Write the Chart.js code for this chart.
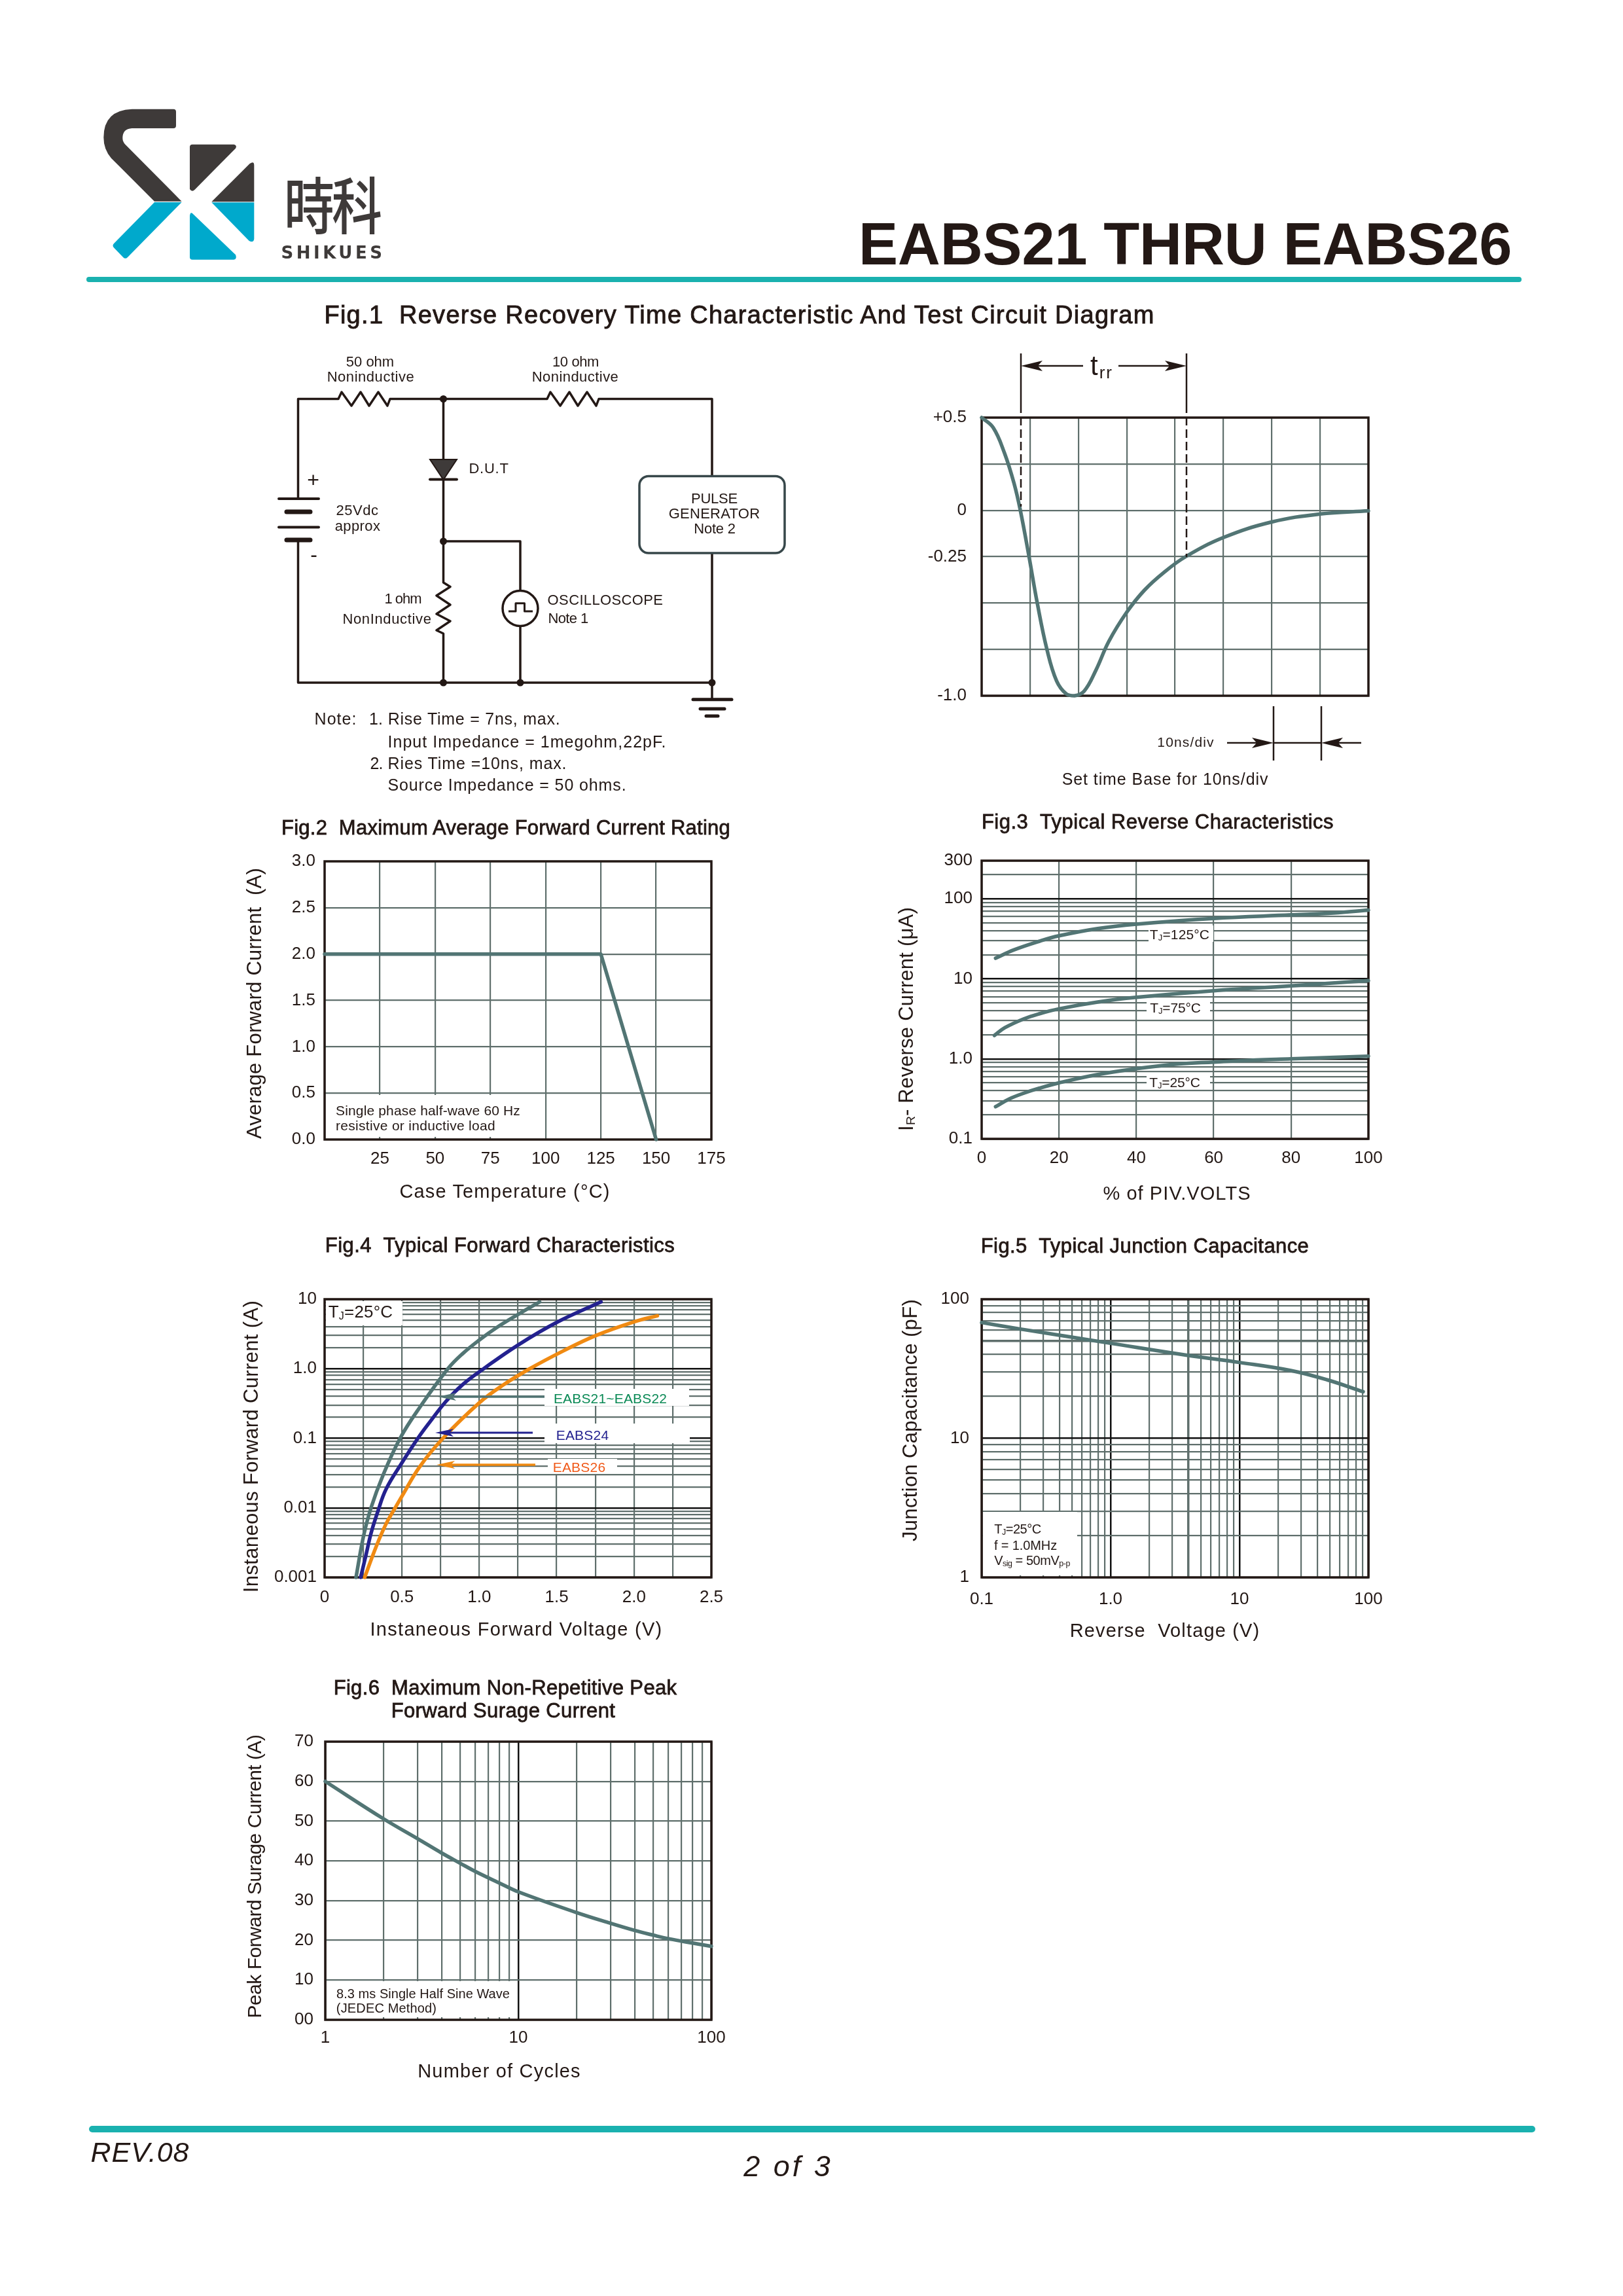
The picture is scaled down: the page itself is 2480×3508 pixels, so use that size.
<!DOCTYPE html>
<html>
<head>
<meta charset="utf-8">
<title>EABS21 THRU EABS26</title>
<script src="https://cdn.jsdelivr.net/npm/chart.js@4"></script>
<style>
  html, body { margin: 0; background: #fff; }
  #page { position: relative; width: 2480px; height: 3508px; overflow: hidden; background: #fff; font-family: "Liberation Sans", Arial, sans-serif; color: #231815; }
  #page canvas { position: absolute; }
  #overlay { position: absolute; left: 0; top: 0; }
  .box { position: absolute; background: #fff; }
  .lbl { position: absolute; white-space: pre; line-height: 1; }
  .sub { font-size: 62%; vertical-align: -0.18em; }
</style>
</head>
<body>
<div id="page">
<svg id="overlay" width="2480" height="3508" viewBox="0 0 2480 3508" style="z-index:3">
  <!-- logo, traced from the header -->
  <g transform="translate(130,140) scale(0.3333)">
    <path fill="#3e3a39" d="M215 80 H405 Q417 80 417 92 V156 Q417 168 405 168 H215 Q172 170 172 213 Q172 230 185 243 L443 503 H318 L120 305 Q85 265 85 210 Q85 85 215 80 Z"/>
    <path fill="#00a9cc" d="M318 507 H443 L196 758 Q185 770 175 760 L133 716 Q122 706 133 695 Z"/>
    <path fill="#3e3a39" d="M480 254 Q480 242 492 242 H682 Q698 246 690 260 L503 449 Q490 462 480 447 Z"/>
    <path fill="#3e3a39" d="M580 505 L755 330 Q775 316 775 338 V505 Z"/>
    <path fill="#00a9cc" d="M580 508 H775 V675 Q772 695 752 684 Z"/>
    <path fill="#00a9cc" d="M492 558 Q482 550 480 570 V758 Q480 770 492 770 H682 Q698 768 690 748 Z"/>
  </g>
  <rect x="132" y="423" width="2193" height="8" rx="4" fill="#1ab1af"/>
  <rect x="136" y="3248" width="2210" height="10" rx="5" fill="#1ab1af"/>

  <!-- test circuit -->
  <g transform="translate(2,0)">
    <g fill="none" stroke="#231815" stroke-width="3.5" stroke-linejoin="round">
      <path d="M453.5 762 V609.5 H515 L520 599 L535 620 L549 599 L562 620 L576 599 L590 620 L594 609.5 H834 L839 599 L854 620 L868 599 L881 620 L895 599 L909 620 L913 609.5 H1086 V727"/>
      <path d="M1086 845 V1068"/>
      <path d="M453.5 825 V1043 H1086"/>
      <path d="M675.5 609.5 V702 M675.5 732 V890 L686 896.5 L665 910 L686 924 L665 938 L686 949 L665 963 L675.5 968 V1043"/>
      <path d="M675.5 827 H793 V902.5 M793 956.5 V1043"/>
      <circle cx="793" cy="929.5" r="27"/>
      <path stroke-width="3" d="M775 934 H786 V921.7 H799.5 V934 H812"/>
      <rect x="975" y="727.5" width="222" height="117.5" rx="14" stroke="#37474a" stroke-width="3.5"/>
    </g>
    <path d="M655 702 H696 L675.5 733 Z" fill="#3e3a39" stroke="#231815" stroke-width="2"/>
    <g stroke="#231815" stroke-linecap="round" fill="none">
      <path stroke-width="4" d="M655 732.5 H696"/>
      <path stroke-width="4" d="M424 762 H485 M424 805.5 H485"/>
      <path stroke-width="7" d="M436 782 H472 M436 825 H472"/>
      <path stroke-width="5" d="M1057 1068.7 H1116"/>
      <path stroke-width="5" d="M1068 1083 H1105"/>
      <path stroke-width="5" d="M1077 1094 H1095"/>
    </g>
    <g fill="#231815">
      <circle cx="675.5" cy="609.5" r="5.5"/><circle cx="675.5" cy="827" r="5.5"/>
      <circle cx="675.5" cy="1043" r="5.5"/><circle cx="793" cy="1043" r="5.5"/><circle cx="1086" cy="1043" r="5.5"/>
    </g>
  </g>

  <!-- scope picture: trr and time base marks -->
  <g fill="none" stroke="#231815" stroke-width="2.5">
    <path d="M1560 540 V618 M1813 540 V618"/>
    <path stroke-dasharray="13 6" d="M1560 618 V774 M1813 618 V851"/>
    <path d="M1946 1079 V1162 M2019 1079 V1162 M1946 1135 H2019"/>
  </g>
  <g id="arrows"></g>
</svg>
</div>

<script>
// Fig.1 scope trace
const fig1Time = [0, 2.4, 4.7, 6.7, 8, 9.8, 11.5, 13.5, 15.5, 17.5, 19.2, 21.2, 23.6, 26.3, 30, 33.7, 37.7, 42.2, 50, 60, 70, 80];
const fig1Level = [0.5, 0.445, 0.31, 0.145, 0, -0.25, -0.5, -0.75, -0.92, -0.99, -1, -0.975, -0.864, -0.707, -0.55, -0.43, -0.335, -0.25, -0.147, -0.063, -0.02, -0.003];
const fig1XGrid = [0, 10, 20, 30, 40, 50, 60, 70, 80];
const fig1YGrid = [-1, -0.75, -0.5, -0.25, 0, 0.25, 0.5];
const fig1YTicks = [0.5, 0, -0.25, -1];
const fig1YLabels = ['+0.5', '0', '-0.25', '-1.0'];

// Fig.2 derating
const fig2Temp = [0, 125, 150];
const fig2Current = [2, 2, 0];
const fig2XGrid = [0, 25, 50, 75, 100, 125, 150, 175];
const fig2XLabels = ['', '25', '50', '75', '100', '125', '150', '175'];
const fig2YGrid = [0, 0.5, 1, 1.5, 2, 2.5, 3];
const fig2YLabels = ['0.0', '0.5', '1.0', '1.5', '2.0', '2.5', '3.0'];

// Fig.3 reverse current
const fig3X125 = [3.6, 8.3, 15.2, 20, 30, 40, 60, 80, 91, 100];
const fig3Y125 = [18.1, 23, 29.8, 34.5, 42.5, 48.3, 57, 63, 66.6, 72.4];
const fig3X75 = [3.3, 6, 10.9, 15, 20, 30, 40, 60, 80, 100];
const fig3Y75 = [1.96, 2.45, 3.16, 3.67, 4.22, 5.13, 5.87, 7.11, 8.16, 9.5];
const fig3X25 = [3.6, 7, 10.9, 15, 20, 30, 40, 51, 60, 71, 80, 100];
const fig3Y25 = [0.252, 0.313, 0.372, 0.431, 0.501, 0.636, 0.753, 0.865, 0.912, 0.97, 1, 1.08];
const fig3XGrid = [0, 20, 40, 60, 80, 100];
const fig3YTicks = [0.1, 1, 10, 100, 300];
const fig3YLabels = ['0.1', '1.0', '10', '100', '300'];

// Fig.4 forward characteristics
const fig4XGreen = [0.203, 0.25, 0.3, 0.376, 0.488, 0.613, 0.797, 0.894, 1.002, 1.11, 1.25, 1.39];
const fig4YGreen = [0.001, 0.00377, 0.01, 0.0288, 0.1, 0.274, 1, 1.66, 2.61, 3.88, 6.03, 9.16];
const fig4XBlue = [0.233, 0.268, 0.3, 0.343, 0.397, 0.501, 0.603, 0.678, 0.786, 0.894, 1.028, 1.25, 1.5, 1.787];
const fig4YBlue = [0.001, 0.00212, 0.0043, 0.0087, 0.0185, 0.0448, 0.1, 0.1687, 0.342, 0.596, 1, 2.19, 4.63, 9.16];
const fig4XOrange = [0.259, 0.333, 0.397, 0.451, 0.501, 0.613, 0.765, 1.002, 1.153, 1.326, 1.542, 1.75, 2, 2.151];
const fig4YOrange = [0.001, 0.00276, 0.00586, 0.00953, 0.0148, 0.0385, 0.1, 0.327, 0.581, 1, 1.8, 2.98, 4.72, 5.78];
const fig4XGrid = [0, 0.25, 0.5, 0.75, 1, 1.25, 1.5, 1.75, 2, 2.25, 2.5];
const fig4XTicks = [0, 0.5, 1, 1.5, 2, 2.5];
const fig4XLabels = ['0', '0.5', '1.0', '1.5', '2.0', '2.5'];
const fig4YTicks = [0.001, 0.01, 0.1, 1, 10];
const fig4YLabels = ['0.001', '0.01', '0.1', '1.0', '10'];

// Fig.5 junction capacitance
const fig5Volt = [0.1, 0.2, 1, 3.94, 10, 25, 48, 91];
const fig5Cap = [68, 61, 48.2, 39.5, 35.1, 30.7, 26.3, 21.6];
const fig5XTicks = [0.1, 1, 10, 100];
const fig5XLabels = ['0.1', '1.0', '10', '100'];
const fig5YTicks = [1, 10, 100];
const fig5YLabels = ['1', '10', '100'];

// Fig.6 surge current
const fig6Cycles = [1, 2, 3, 4, 5, 6, 8, 10, 20, 30, 40, 50, 60, 80, 100];
const fig6Surge = [60, 50.6, 45.6, 42, 39.4, 37.3, 34.4, 32.2, 27, 24.3, 22.5, 21.3, 20.4, 19.3, 18.5];
const fig6YGrid = [0, 10, 20, 30, 40, 50, 60, 70];
const fig6YLabels = ['00', '10', '20', '30', '40', '50', '60', '70'];
const fig6XTicks = [1, 10, 100];
const fig6XLabels = ['1', '10', '100'];

const TRACE = '#527574';
const BLUE = '#23218f';
const ORANGE = '#f08a12';
const GRID = '#5f6f6c';
const INK = '#231815';

const page = document.getElementById('page');

// 1..9 x 10^n grid values of a log axis, plus the top of the axis
function logGrid(min, max) {
  const vals = [];
  for (let e = Math.floor(Math.log10(min)); e <= Math.ceil(Math.log10(max)); e++) {
    for (let k = 1; k <= 9; k++) {
      const v = Math.round(k * Math.pow(10, e) * 1e6) / 1e6;
      if (v >= min && v <= max) vals.push(v);
    }
  }
  if (!vals.includes(max)) vals.push(max);
  return vals;
}

function isDecade(v) {
  const l = Math.log10(v);
  return Math.abs(l - Math.round(l)) < 1e-9;
}

// a: {type, min, max, grid, ticks, labels, pad, heavy}
function axis(a, fitSide) {
  const log = a.type === 'logarithmic';
  const tickVals = a.ticks || a.grid;
  const opts = {
    type: a.type || 'linear',
    min: a.min,
    max: a.max,
    afterBuildTicks: s => { s.ticks = a.grid.map(v => ({ value: v })); },
    grid: {
      drawTicks: false,
      color: c => (log && isDecade(c.tick.value)) ? '#111' : GRID,
      lineWidth: c => (log && isDecade(c.tick.value)) ? 2.5 : ((a.heavy || []).includes(c.tick.value) ? 3.5 : 2.2)
    },
    border: { display: false },
    ticks: {
      autoSkip: false,
      maxRotation: 0,
      padding: a.pad,
      color: INK,
      font: { family: '"Liberation Sans"', size: 26 },
      callback: v => {
        if (!a.labels) return '';
        const i = tickVals.findIndex(t => Math.abs(t - v) < 1e-9);
        return i < 0 ? '' : a.labels[i];
      }
    }
  };
  opts.afterFit = s => { if (fitSide === 'x') s.height = 70; else s.width = 110; };
  return opts;
}

const framePlugin = {
  id: 'frame',
  beforeDatasetsDraw(chart) {
    const { ctx, chartArea: c } = chart;
    ctx.save();
    ctx.strokeStyle = INK;
    ctx.lineWidth = 3.5;
    ctx.strokeRect(c.left, c.top, c.right - c.left, c.bottom - c.top);
    ctx.restore();
  }
};

function series(xs, ys, color, straight) {
  return {
    data: xs.map((x, i) => ({ x: x, y: ys[i] })),
    borderColor: color,
    borderWidth: 5.5,
    pointRadius: 0,
    clip: false,
    borderCapStyle: 'round',
    borderJoinStyle: 'round',
    tension: straight ? 0 : 0.4
  };
}

// the frame of the plot is placed by pixels, the canvas is set around it
function plot(frame, datasets, xAxis, yAxis) {
  const canvas = document.createElement('canvas');
  const w = frame.right - frame.left + 170;
  const h = frame.bottom - frame.top + 130;
  canvas.width = w;
  canvas.height = h;
  canvas.style.left = (frame.left - 110) + 'px';
  canvas.style.top = (frame.top - 60) + 'px';
  canvas.style.width = w + 'px';
  canvas.style.height = h + 'px';
  canvas.style.zIndex = 1;
  page.appendChild(canvas);
  return new Chart(canvas.getContext('2d'), {
    type: 'line',
    data: { datasets: datasets },
    plugins: [framePlugin],
    options: {
      responsive: false,
      animation: false,
      devicePixelRatio: 1,
      layout: { padding: { top: 60, right: 60, left: 0, bottom: 0 } },
      plugins: { legend: { display: false }, tooltip: { enabled: false } },
      scales: { x: axis(xAxis, 'x'), y: axis(yAxis, 'y') }
    }
  });
}

// text fitted to the width it has on the page
function label(html, x1, x2, y, size, o) {
  o = o || {};
  const sx = o.sx || 1;
  const el = document.createElement('div');
  el.className = 'lbl';
  el.innerHTML = html;
  el.style.fontSize = size + 'px';
  el.style.zIndex = 4;
  if (o.font) el.style.fontFamily = o.font;
  if (o.weight) el.style.fontWeight = o.weight;
  if (o.italic) el.style.fontStyle = 'italic';
  if (o.color) el.style.color = o.color;
  if (o.stroke) el.style.webkitTextStroke = o.stroke + 'px ' + (o.color || INK);
  el.style.left = o.rot ? y + 'px' : (x1 + x2) / 2 + 'px';
  el.style.top = o.rot ? (x1 + x2) / 2 + 'px' : y + 'px';
  el.style.transform = 'translate(-50%,-50%)' + (o.rot ? ' rotate(-90deg)' : '') + (sx !== 1 ? ` scaleX(${sx})` : '');
  page.appendChild(el);
  const n = el.textContent.length;
  el.style.letterSpacing = (((x2 - x1) / sx - el.offsetWidth) / Math.max(n - 1, 1)) + 'px';
  return el;
}

// circuit text sits 2px right of the first reading
function clabel(html, x1, x2, y, size) {
  return label(html, x1 + 2, x2 + 2, y, size);
}

function whiteBox(x1, y1, x2, y2) {
  const el = document.createElement('div');
  el.className = 'box';
  el.style.cssText = `left:${x1}px;top:${y1}px;width:${x2 - x1}px;height:${y2 - y1}px;z-index:2`;
  page.appendChild(el);
}

// barbed arrow with the tip at tipX, tail at tailX
function arrow(tipX, y, tailX, color, sw, len, half) {
  const dir = tailX > tipX ? 1 : -1;
  const ns = 'http://www.w3.org/2000/svg';
  const g = document.getElementById('arrows');
  const line = document.createElementNS(ns, 'path');
  line.setAttribute('d', `M${tipX + dir * len * 0.5} ${y} H${tailX}`);
  line.setAttribute('stroke', color);
  line.setAttribute('stroke-width', sw);
  g.appendChild(line);
  const head = document.createElementNS(ns, 'path');
  head.setAttribute('d', `M${tipX} ${y} L${tipX + dir * len} ${y - half} L${tipX + dir * len * 0.78} ${y} L${tipX + dir * len} ${y + half} Z`);
  head.setAttribute('fill', color);
  g.appendChild(head);
}

// ---- charts ----
plot({ left: 1500, right: 2091, top: 638, bottom: 1063 },
  [series(fig1Time, fig1Level, TRACE)],
  { min: 0, max: 80, grid: fig1XGrid },
  { min: -1, max: 0.5, grid: fig1YGrid, ticks: fig1YTicks, labels: fig1YLabels, pad: 23 });

plot({ left: 496, right: 1087, top: 1316, bottom: 1741 },
  [series(fig2Temp, fig2Current, TRACE, true)],
  { min: 0, max: 175, grid: fig2XGrid, labels: fig2XLabels, pad: 14 },
  { min: 0, max: 3, grid: fig2YGrid, labels: fig2YLabels, pad: 14 });

plot({ left: 1500, right: 2091, top: 1315, bottom: 1740 },
  [series(fig3X125, fig3Y125, TRACE), series(fig3X75, fig3Y75, TRACE), series(fig3X25, fig3Y25, TRACE)],
  { min: 0, max: 100, grid: fig3XGrid, labels: fig3XGrid.map(String), pad: 14 },
  { type: 'logarithmic', min: 0.1, max: 300, grid: logGrid(0.1, 300), ticks: fig3YTicks, labels: fig3YLabels, pad: 14 });

plot({ left: 496, right: 1087, top: 1985, bottom: 2410 },
  [series(fig4XGreen, fig4YGreen, TRACE), series(fig4XBlue, fig4YBlue, BLUE), series(fig4XOrange, fig4YOrange, ORANGE)],
  { min: 0, max: 2.5, grid: fig4XGrid, ticks: fig4XTicks, labels: fig4XLabels, pad: 15 },
  { type: 'logarithmic', min: 0.001, max: 10, grid: logGrid(0.001, 10), ticks: fig4YTicks, labels: fig4YLabels, pad: 12 });

plot({ left: 1500, right: 2091, top: 1985, bottom: 2410 },
  [series(fig5Volt, fig5Cap, TRACE)],
  { type: 'logarithmic', min: 0.1, max: 100, grid: logGrid(0.1, 100), ticks: fig5XTicks, labels: fig5XLabels, pad: 18, heavy: [4] },
  { type: 'logarithmic', min: 1, max: 100, grid: logGrid(1, 100), ticks: fig5YTicks, labels: fig5YLabels, pad: 19, heavy: [50] });

plot({ left: 497, right: 1087, top: 2661, bottom: 3086 },
  [series(fig6Cycles, fig6Surge, TRACE)],
  { type: 'logarithmic', min: 1, max: 100, grid: logGrid(1, 100), ticks: fig6XTicks, labels: fig6XLabels, pad: 12 },
  { min: 0, max: 70, grid: fig6YGrid, labels: fig6YLabels, pad: 18 });

// ---- note boxes cut out of the grids ----
whiteBox(498, 1673, 832, 1737);
whiteBox(1755, 1414, 1854, 1439);
whiteBox(1752, 1530, 1849, 1548);
whiteBox(1752, 1644, 1849, 1664);
whiteBox(498, 1988, 615, 2025);
whiteBox(832, 2122, 1053, 2148);
whiteBox(832, 2175, 1054, 2205);
whiteBox(837, 2229, 943, 2252);
whiteBox(1502, 2310, 1646, 2407);
whiteBox(499, 3027, 789, 3082);

arrow(669, 2134, 832, TRACE, 3.5, 28, 6);
arrow(665, 2189, 814, BLUE, 3, 28, 6);
arrow(667, 2238, 818, ORANGE, 3.5, 28, 6);
arrow(1560, 559, 1655, INK, 2.5, 33, 8);
arrow(1813, 559, 1709, INK, 2.5, 33, 8);
arrow(1946, 1135, 1875, INK, 2.5, 33, 8);
arrow(2019, 1135, 2080, INK, 2.5, 33, 8);

// ---- header and footer ----
label('時科', 432, 582, 309, 94, { font: '"Noto Sans CJK TC"', weight: 500, color: '#3e3a39', sx: 0.82 });
label('SHIKUES', 432, 586, 386, 26, { font: '"DejaVu Sans"', weight: 700, color: '#3e3a39' });
label('EABS21 THRU EABS26', 1312, 2310, 373, 90, { weight: 700 });
label('REV.08', 139, 289, 3288, 43, { italic: true });
label('2 of 3', 1138, 1271, 3309, 45, { italic: true });

// ---- figure titles ----
label('Fig.1  Reverse Recovery Time Characteristic And Test Circuit Diagram', 496, 1764, 481, 38, { stroke: 0.9 });
label('Fig.2  Maximum Average Forward Current Rating', 430, 1116, 1264, 31, { stroke: 0.8 });
label('Fig.3  Typical Reverse Characteristics', 1500, 2038, 1255, 31, { stroke: 0.8 });
label('Fig.4  Typical Forward Characteristics', 497, 1031, 1902, 31, { stroke: 0.8 });
label('Fig.5  Typical Junction Capacitance', 1499, 2000, 1903, 31, { stroke: 0.8 });
label('Fig.6  Maximum Non-Repetitive Peak', 510, 1034, 2578, 31, { stroke: 0.8 });
label('Forward Surage Current', 598, 940, 2613, 31, { stroke: 0.8 });

// ---- axis titles ----
label('Case Temperature (°C)', 611, 932, 1820, 29);
label('Average Forward Current  (A)', 1326, 1740, 388, 31, { rot: true });
label('% of PIV.VOLTS', 1686, 1911, 1823, 29);
label('I<span class="sub">R</span>- Reverse Current (μA)', 1386, 1728, 1385, 31, { rot: true });
label('Instaneous Forward Voltage (V)', 566, 1012, 2489, 29);
label('Instaneous Forward Current (A)', 1987, 2433, 383, 31, { rot: true });
label('Reverse  Voltage (V)', 1635, 1925, 2491, 29);
label('Junction Capacitance (pF)', 1985, 2355, 1390, 31, { rot: true });
label('Number of Cycles', 639, 887, 3164, 29);
label('Peak Forward Surage Current (A)', 2650, 3084, 389, 30, { rot: true });

// ---- notes in the plots ----
label('Single phase half-wave 60 Hz', 513, 795, 1696, 21);
label('resistive or inductive load', 513, 757, 1719, 21);
label('T<span class="sub">J</span>=125°C', 1757, 1848, 1428, 21);
label('T<span class="sub">J</span>=75°C', 1757, 1835, 1540, 21);
label('T<span class="sub">J</span>=25°C', 1756, 1834, 1654, 21);
label('T<span class="sub">J</span>=25°C', 502, 600, 2005, 26);
label('EABS21~EABS22', 846, 1019, 2136, 21, { color: '#0b8a56' });
label('EABS24', 850, 930, 2192, 21, { color: BLUE });
label('EABS26', 845, 925, 2241, 21, { color: '#f05a1a' });
label('T<span class="sub">J</span>=25°C', 1519, 1591, 2337, 20);
label('f = 1.0MHz', 1519, 1615, 2361, 20);
label('V<span class="sub">sig</span> = 50mV<span class="sub">p-p</span>', 1519, 1635, 2385, 20);
label('8.3 ms Single Half Sine Wave', 514, 779, 3046, 20);
label('(JEDEC Method)', 514, 667, 3068, 20);

// ---- circuit text ----
clabel('50 ohm', 527, 600, 553, 22);
clabel('Noninductive', 498, 631, 576, 22);
clabel('10 ohm', 842, 913, 553, 22);
clabel('Noninductive', 811, 943, 576, 22);
clabel('D.U.T', 715, 775, 716, 22);
clabel('+', 467, 488, 733, 32);
clabel('-', 472, 483, 847, 32);
clabel('25Vdc', 512, 576, 780, 22);
clabel('approx', 510, 579, 804, 22);
clabel('PULSE', 1054, 1125, 762, 22);
clabel('GENERATOR', 1020, 1159, 785, 22);
clabel('Note 2', 1058, 1122, 808, 22);
clabel('1 ohm', 585, 642, 915, 22);
clabel('NonInductive', 522, 657, 946, 22);
clabel('OSCILLOSCOPE', 835, 1011, 917, 22);
clabel('Note 1', 835, 897, 945, 22);
clabel('Note:', 479, 543, 1098, 25);
clabel('1.', 562, 583, 1098, 25);
clabel('Rise Time = 7ns, max.', 591, 854, 1098, 25);
clabel('Input Impedance = 1megohm,22pF.', 591, 1016, 1133, 25);
clabel('2.', 563, 583, 1166, 25);
clabel('Ries Time =10ns, max.', 591, 864, 1166, 25);
clabel('Source Impedance = 50 ohms.', 591, 955, 1199, 25);

// ---- scope notes ----
label('t<span class="sub">rr</span>', 1667, 1700, 560, 42);
label('10ns/div', 1769, 1855, 1133, 21);
label('Set time Base for 10ns/div', 1623, 1938, 1190, 25);
</script>
</body>
</html>
